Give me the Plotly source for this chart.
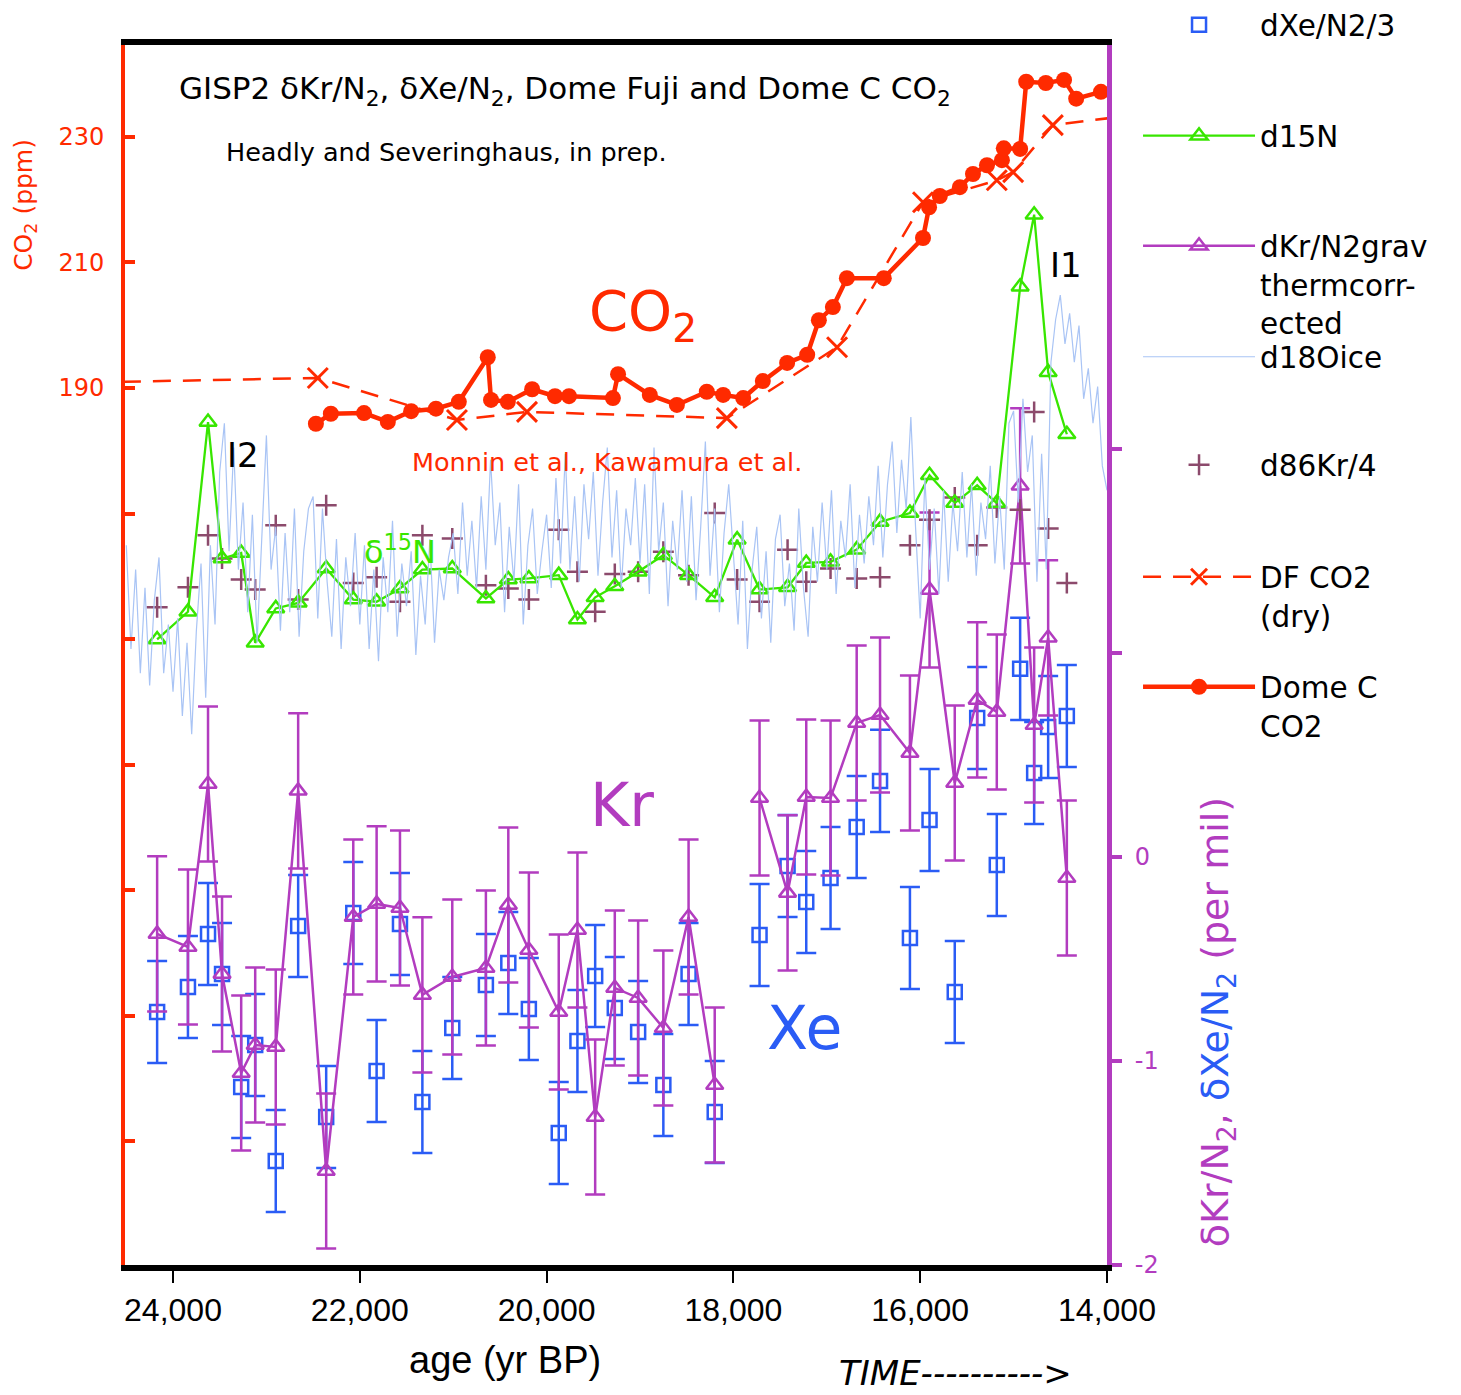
import plotly.graph_objects as go

# ---------------- data ----------------
# sample ages (yr BP) of the GISP2 gas measurements
sample_age = [24170, 23840, 23625, 23475, 23270, 23120, 22900, 22660, 22360, 22070,
              21820, 21570, 21330, 21010, 20650, 20410, 20190, 19870, 19670, 19480,
              19270, 19020, 18750, 18480, 18200, 17960, 17720, 17420, 17220, 16960,
              16680, 16430, 16110, 15900, 15630, 15390, 15180, 14930, 14780, 14630, 14430]

d15n = [0.464, 0.489, 0.660, 0.537, 0.542, 0.461, 0.492, 0.497, 0.528, 0.500,
        0.498, 0.510, 0.527, 0.528, 0.501, 0.518, 0.519, 0.522, 0.482, 0.502,
        0.512, 0.525, 0.540, 0.522, 0.502, 0.554, 0.509, 0.511, 0.533, 0.534,
        0.545, 0.570, 0.578, 0.612, 0.587, 0.603, 0.587, 0.782, 0.847, 0.705, 0.649]

d86kr_4 = [0.493, 0.511, 0.558, 0.537, 0.518, 0.509, 0.567, 0.500, 0.585, 0.515,
           0.520, 0.498, 0.558, 0.555, 0.513, 0.510, 0.500, 0.563, 0.525, 0.489,
           0.523, 0.525, 0.543, 0.522, 0.578, 0.518, 0.498, 0.545, 0.516, 0.528,
           0.519, 0.520, 0.549, 0.572, 0.592, 0.549, 0.583, 0.581, 0.669, 0.564, 0.515]

dkr_n2 = [-0.377, -0.441, 0.358, -0.574, -1.059, -0.922, -0.931, 0.324, -1.539, -0.294,
          -0.230, -0.250, -0.676, -0.588, -0.544, -0.235, -0.456, -0.760, -0.358, -1.275,
          -0.642, -0.691, -0.838, -0.294, -1.118, None, 0.289, -0.176, 0.294, 0.289,
          0.657, 0.696, 0.510, 1.309, 0.363, 0.770, 0.711, 1.819, 0.647, 1.074, -0.103]

dxe_n2_3 = [-0.760, -0.637, -0.377, -0.574, -1.127, -0.922, -1.490, -0.338, -1.275, -0.275,
            -1.049, -0.328, -1.201, -0.838, -0.627, -0.520, -0.745, -1.353, -0.902, -0.583,
            -0.740, -0.858, -1.118, -0.574, -1.250, None, -0.382, -0.044, -0.221, -0.103,
            0.147, 0.373, -0.397, 0.181, -0.662, 0.681, -0.039, 0.922, 0.412, 0.637, 0.691]

kr_err = 0.38
xe_err = 0.25

# Dome C CO2 (Monnin et al.)
domec_age = [22470, 22310, 21955, 21700, 21450, 21185, 20940, 20630, 20595, 20415,
             20155, 19910, 19760, 19290, 19235, 18895, 18605, 18285, 18110, 17895,
             17685, 17425, 17210, 17085, 16935, 16785, 16390, 15970, 15905, 15790,
             15575, 15435, 15285, 15125, 15105, 14930, 14865, 14655, 14460, 14330, 14065]
domec_co2 = [184.3, 185.9, 186.0, 184.6, 186.3, 186.7, 187.8, 194.9, 188.1, 187.8,
             189.8, 188.7, 188.7, 188.4, 192.2, 188.9, 187.3, 189.4, 188.9, 188.4,
             191.1, 194.0, 195.3, 200.8, 202.9, 207.5, 207.5, 213.9, 218.8, 220.6,
             222.0, 224.1, 225.5, 226.3, 228.2, 228.1, 238.8, 238.6, 239.1, 236.1, 237.2]

# Dome Fuji CO2 (Kawamura et al.)
df_age = [25500, 22450, 20960, 20210, 18070, 16890, 15970, 15180, 15005, 14580, 13600]
df_co2 = [190.7, 191.6, 184.9, 186.2, 185.2, 196.5, 219.6, 223.1, 224.4, 231.9, 233.7]

# GISP2 d18O ice
d18o_age = [24500, 24450, 24400, 24350, 24300, 24250, 24200, 24150, 24100, 24050,
            24000, 23950, 23900, 23850, 23800, 23750, 23700, 23650, 23600, 23550,
            23500, 23450, 23400, 23350, 23300, 23250, 23200, 23150, 23100, 23050,
            23000, 22950, 22900, 22850, 22800, 22750, 22700, 22650, 22600, 22550,
            22500, 22450, 22400, 22350, 22300, 22250, 22200, 22150, 22100, 22050,
            22000, 21950, 21900, 21850, 21800, 21750, 21700, 21650, 21600, 21550,
            21500, 21450, 21400, 21350, 21300, 21250, 21200, 21150, 21100, 21050,
            21000, 20950, 20900, 20850, 20800, 20750, 20700, 20650, 20600, 20550,
            20500, 20450, 20400, 20350, 20300, 20250, 20200, 20150, 20100, 20050,
            20000, 19950, 19900, 19850, 19800, 19750, 19700, 19650, 19600, 19550,
            19500, 19450, 19400, 19350, 19300, 19250, 19200, 19150, 19100, 19050,
            19000, 18950, 18900, 18850, 18800, 18750, 18700, 18650, 18600, 18550,
            18500, 18450, 18400, 18350, 18300, 18250, 18200, 18150, 18100, 18050,
            18000, 17950, 17900, 17850, 17800, 17750, 17700, 17650, 17600, 17550,
            17500, 17450, 17400, 17350, 17300, 17250, 17200, 17150, 17100, 17050,
            17000, 16950, 16900, 16850, 16800, 16750, 16700, 16650, 16600, 16550,
            16500, 16450, 16400, 16350, 16300, 16250, 16200, 16150, 16100, 16050,
            16000, 15950, 15900, 15850, 15800, 15750, 15700, 15650, 15600, 15550,
            15500, 15450, 15400, 15350, 15300, 15250, 15200, 15150, 15100, 15050,
            15000, 14950, 14900, 14850, 14800, 14750, 14700, 14650, 14600, 14550,
            14500, 14450, 14400, 14350, 14300, 14250, 14200, 14150, 14100, 14050,
            14000]
d18o_ice = [-40.2, -41.9, -40.6, -42.3, -40.9, -42.5, -41.1, -40.4, -42.3, -41.5,
            -42.6, -41.4, -43.0, -41.8, -43.3, -41.6, -40.5, -42.7, -40.2, -41.5,
            -39.0, -38.2, -40.3, -38.6, -40.6, -39.5, -41.3, -39.7, -41.8, -40.2,
            -38.4, -40.6, -39.9, -41.6, -40.0, -41.3, -39.6, -41.7, -40.3, -39.6,
            -39.4, -41.4, -39.6, -40.8, -41.7, -40.1, -41.9, -40.4, -41.2, -40.0,
            -41.5, -40.2, -41.9, -40.6, -42.1, -40.4, -41.3, -39.8, -41.7, -40.5,
            -41.2, -40.3, -42.0, -40.7, -41.5, -40.1, -41.8, -40.6, -41.1, -40.4,
            -40.0, -41.0, -39.5, -40.7, -39.8, -40.9, -39.4, -40.6, -38.8, -40.2,
            -39.5, -41.3, -39.9, -40.8, -39.2, -41.5, -40.2, -39.6, -41.0, -40.3,
            -39.7, -40.9, -39.1, -40.5, -38.7, -40.6, -39.4, -40.8, -39.2, -40.1,
            -39.0, -40.7, -39.5, -38.6, -40.4, -39.3, -40.9, -39.6, -40.2, -39.1,
            -40.5, -39.2, -41.0, -38.6, -40.3, -39.5, -41.2, -39.8, -40.6, -39.3,
            -40.8, -39.4, -41.1, -39.9, -38.5, -40.7, -39.6, -41.3, -40.0, -39.2,
            -40.4, -41.5, -39.8, -41.9, -40.6, -39.9, -41.4, -40.3, -41.8, -40.1,
            -39.7, -41.2, -40.5, -41.6, -39.6, -40.9, -41.7, -39.9, -40.8, -39.5,
            -40.6, -39.3, -41.0, -39.8, -40.4, -39.2, -40.9, -39.7, -40.5, -39.4,
            -40.2, -38.9, -40.4, -39.2, -38.5, -40.0, -38.8, -39.6, -38.1, -39.9,
            -41.4, -39.1, -40.6, -39.6, -41.0, -39.3, -40.8, -39.5, -40.3, -39.0,
            -40.4, -39.2, -40.7, -39.5, -40.1, -38.9, -40.5, -39.4, -40.6, -38.2,
            -38.0, -39.5, -37.8, -39.0, -38.4, -40.8, -38.7, -40.6, -37.2, -36.5,
            -36.1, -36.9, -36.4, -37.2, -36.6, -37.8, -37.3, -38.2, -37.6, -38.9,
            -39.3]

x_ticks = [24000, 22000, 20000, 18000, 16000, 14000]
x_ticktext = ["24,000", "22,000", "20,000", "18,000", "16,000", "14,000"]
co2_labeled_ticks = [190, 210, 230]
co2_ticktext = ["190", "210", "230"]
co2_minor_ticks = [70, 90, 110, 130, 150, 170]
permil_labeled_ticks = [-2, -1, 0]
permil_ticktext = ["-2", "-1", "0"]
permil_minor_ticks = [1, 2]

# ---------------- styling ----------------
RED = "#ff2a00"
GREEN = "#38e600"
PURPLE = "#b23cbf"
BLUE = "#2a5cf5"
MAUVE = "#8c4a6c"
LIGHTBLUE = "#a9c4f5"
FONT = "DejaVu Sans"

fig = go.Figure()

fig.add_trace(go.Scatter(
    x=d18o_age, y=d18o_ice, yaxis="y4", mode="lines",
    line=dict(color=LIGHTBLUE, width=1.2),
    name="d18Oice", legend="legend4"))

fig.add_trace(go.Scatter(
    x=sample_age, y=d86kr_4, yaxis="y3", mode="markers",
    marker=dict(symbol="cross-thin", size=15, line=dict(color=MAUVE, width=2.5), color=MAUVE),
    name="d86Kr/4", legend="legend5"))

fig.add_trace(go.Scatter(
    x=sample_age, y=d15n, yaxis="y3", mode="lines+markers",
    line=dict(color=GREEN, width=2.3),
    marker=dict(symbol="triangle-up-open", size=15, color=GREEN, line=dict(width=2.5)),
    name="d15N", legend="legend2"))

fig.add_trace(go.Scatter(
    x=sample_age, y=dxe_n2_3, yaxis="y2", mode="markers",
    marker=dict(symbol="square-open", size=14, color=BLUE, line=dict(width=2.5)),
    error_y=dict(type="constant", value=xe_err, color=BLUE, thickness=2.5, width=10),
    name="dXe/N2/3", legend="legend"))

fig.add_trace(go.Scatter(
    x=sample_age, y=dkr_n2, yaxis="y2", mode="lines+markers",
    line=dict(color=PURPLE, width=2.5),
    marker=dict(symbol="triangle-up-open", size=15, color=PURPLE, line=dict(width=2.5)),
    error_y=dict(type="constant", value=kr_err, color=PURPLE, thickness=2.5, width=10),
    connectgaps=False,
    name="dKr/N2grav<br>thermcorr-<br>ected", legend="legend3"))

fig.add_trace(go.Scatter(
    x=df_age, y=df_co2, yaxis="y", mode="lines+markers",
    line=dict(color=RED, width=2.5, dash="18px,12px"),
    marker=dict(symbol="x-thin", size=20, color=RED, line=dict(color=RED, width=3)),
    name="DF CO2<br>(dry)", legend="legend6"))

fig.add_trace(go.Scatter(
    x=domec_age, y=domec_co2, yaxis="y", mode="lines+markers",
    line=dict(color=RED, width=4.5),
    marker=dict(symbol="circle", size=16, color=RED),
    name="Dome C<br>CO2", legend="legend7"))

annotations = [
    dict(text="GISP2 δKr/N<sub>2</sub>, δXe/N<sub>2</sub>, Dome Fuji and Dome C CO<sub>2</sub>",
         x=0.053, y=0.963, font=dict(size=31, color="black")),
    dict(text="Headly and Severinghaus, in prep.", x=0.1008, y=0.912,
         font=dict(size=25.5, color="black")),
    dict(text="CO<sub>2</sub>", x=0.4705, y=0.779, font=dict(size=56, color=RED)),
    dict(text="I2", x=0.1018, y=0.664, font=dict(size=34, color="black")),
    dict(text="I1", x=0.940, y=0.820, font=dict(size=34, color="black")),
    dict(text="Monnin et al., Kawamura et al.", x=0.290, y=0.658,
         font=dict(size=25.5, color=RED)),
    dict(text="δ<sup>15</sup>N", x=0.241, y=0.586, font=dict(size=32, color=GREEN)),
    dict(text="Kr", x=0.4715, y=0.377, font=dict(size=60, color=PURPLE)),
    dict(text="Xe", x=0.6517, y=0.194, font=dict(size=60, color=BLUE)),
    dict(text="CO<sub>2</sub> (ppm)", x=-0.1018, y=0.869, textangle=-90,
         xanchor="center", yanchor="middle", font=dict(size=25, color=RED)),
    dict(text=(f'<span style="color:{PURPLE}">δKr/N<sub>2</sub>,</span> '
               f'<span style="color:{BLUE}">δXe/N<sub>2</sub></span>'
               f'<span style="color:{PURPLE}"> (per mil)</span>'),
         x=1.112, y=0.199, textangle=-90, xanchor="center", yanchor="middle",
         font=dict(size=38, color=PURPLE)),
    dict(text="age (yr BP)", x=0.387, y=-0.078, xanchor="center",
         font=dict(size=38, color="black", family="Liberation Sans")),
    dict(text="<i>TIME----------></i>", x=0.725, y=-0.1062, yanchor="bottom",
         font=dict(size=34, color="black", family=FONT)),
]
for a in annotations:
    a.setdefault("xanchor", "left")
    a.setdefault("yanchor", "middle")
    a.update(xref="paper", yref="paper", showarrow=False)
    a["font"].setdefault("family", FONT)


def legend_box(ytop):
    return dict(x=1.0316, xanchor="left", y=ytop, yanchor="top",
                font=dict(family=FONT, size=29.5, color="black"),
                itemwidth=112, valign="top", bgcolor="rgba(0,0,0,0)",
                borderwidth=0)


fig.update_layout(
    width=1461, height=1395,
    margin=dict(l=125, r=354, t=45, b=130, autoexpand=False),
    paper_bgcolor="white", plot_bgcolor="white",
    font=dict(family=FONT),
    annotations=annotations,
    showlegend=True,
    legend=legend_box(1.0377),
    legend2=legend_box(0.9467),
    legend3=legend_box(0.8565),
    legend4=legend_box(0.7655),
    legend5=legend_box(0.6770),
    legend6=legend_box(0.5852),
    legend7=legend_box(0.4950),
    xaxis=dict(range=[24514, 14000], tickmode="array", tickvals=x_ticks, ticktext=x_ticktext,
               ticks="outside", ticklen=12, tickwidth=1.5, tickcolor="black",
               showline=True, linecolor="black", linewidth=6, mirror=True,
               showgrid=False, zeroline=False, automargin=False,
               tickfont=dict(family="Liberation Sans", size=32, color="black")),
    yaxis=dict(range=[50.24, 244.66], tickmode="array", tickvals=co2_labeled_ticks,
               ticktext=co2_ticktext,
               ticks="inside", ticklen=10, tickwidth=4, tickcolor=RED,
               minor=dict(tickmode="array", tickvals=co2_minor_ticks, ticks="inside",
                          ticklen=10, tickwidth=4, tickcolor=RED, showgrid=False),
               showline=True, linecolor=RED, linewidth=4, automargin=False,
               showgrid=False, zeroline=False, ticklabelstandoff=12,
               tickfont=dict(family=FONT, size=24, color=RED)),
    yaxis2=dict(overlaying="y", side="right", range=[-2, 3.98],
                tickmode="array", tickvals=permil_labeled_ticks, ticktext=permil_ticktext,
                ticks="outside", ticklen=10, tickwidth=4, tickcolor=PURPLE,
                minor=dict(tickmode="array", tickvals=permil_minor_ticks, ticks="outside",
                           ticklen=10, tickwidth=4, tickcolor=PURPLE, showgrid=False),
                showline=True, linecolor=PURPLE, linewidth=5, automargin=False,
                showgrid=False, zeroline=False, ticklabelstandoff=8,
                tickfont=dict(family=FONT, size=24, color=PURPLE)),
    yaxis3=dict(overlaying="y", range=[-0.1, 1.0], visible=False),
    yaxis4=dict(overlaying="y", range=[-52, -32], visible=False),
)

fig.write_html("out.html", config={"displayModeBar": False},
               post_script="document.body.style.margin='0px';")
